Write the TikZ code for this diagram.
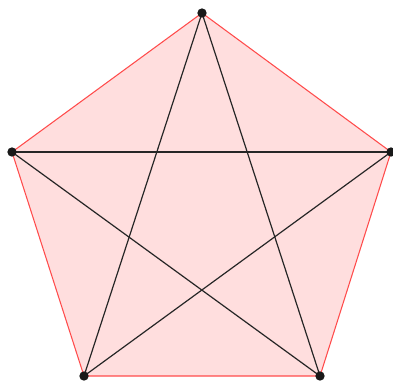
\documentclass[tikz,border=0pt]{standalone}
\usepackage{tikz}
\usetikzlibrary{calc}
\usepackage[dvipsnames, svgnames]{xcolor}

\tikzset{
    side/.style={draw=red!70!white, fill=red!13, line width=0.8pt, line join=round},
    diag/.style={draw=black!85, line width=0.9pt},
    vertex/.style={circle, fill=black!90, inner sep=0pt, minimum size=7pt}
}

\begin{document}
\begin{tikzpicture}[x=0.0264cm, y=-0.0264cm]
    \useasboundingbox (0,0) rectangle (393,380);

    \coordinate (top) at (202,13);
    \coordinate (left) at (12,152);
    \coordinate (right) at (391,152);
    \coordinate (botleft) at (84,376);
    \coordinate (botright) at (320,376);

    \draw[side] (top) -- (right) -- (botright) -- (botleft) -- (left) -- cycle;

    \draw[diag] (top) -- (botleft);
    \draw[diag] (top) -- (botright);
    \draw[diag] (left) -- (right);
    \draw[diag] (left) -- (botright);
    \draw[diag] (right) -- (botleft);

    \foreach \p in {top, left, right, botleft, botright}
        \node[vertex] (v-\p) at (\p) {};
\end{tikzpicture}
\end{document}
